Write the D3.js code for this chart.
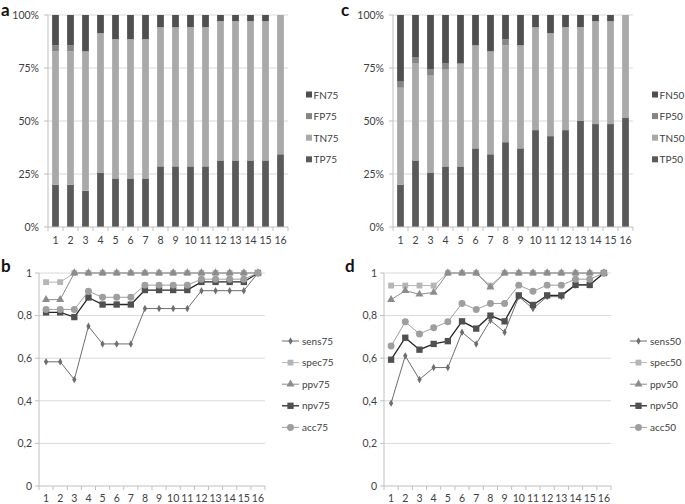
<!DOCTYPE html>
<html><head><meta charset="utf-8">
<script src="https://cdn.jsdelivr.net/npm/d3@7"></script>
<style>body{margin:0;background:#fff}svg{display:block}text{font-family:Lato,"Open Sans",sans-serif}</style>
</head><body>
<script>
const categories = d3.range(1,17).map(String);
// Panel a: percentages (threshold 75)
const TP75 = [20,20,17.1,25.7,22.9,22.9,22.9,28.6,28.6,28.6,28.6,31.4,31.4,31.4,31.4,34.3];
const TN75 = [62.9,62.9,65.7,65.7,65.7,65.7,65.7,65.7,65.7,65.7,65.7,65.7,65.7,65.7,65.7,65.7];
const FP75 = [2.9,2.9,0,0,0,0,0,0,0,0,0,0,0,0,0,0];
const FN75 = [14.3,14.3,17.1,8.6,11.4,11.4,11.4,5.7,5.7,5.7,5.7,2.9,2.9,2.9,2.9,0];
// Panel c: percentages (threshold 50)
const TP50 = [20,31.4,25.7,28.6,28.6,37.1,34.3,40,37.1,45.7,42.9,45.7,50,48.6,48.6,51.4];
const TN50 = [45.7,45.7,45.7,45.7,48.6,48.6,48.6,45.7,48.6,48.6,48.6,48.6,44.3,48.6,48.6,48.6];
const FP50 = [2.9,2.9,2.9,2.9,0,0,0,2.9,0,0,0,0,0,0,0,0];
const FN50 = [31.4,20,25.7,22.9,22.9,14.3,17.1,11.4,14.3,5.7,8.6,5.7,5.7,2.9,2.9,0];
// Panel b
const sens75 = [.583,.583,.5,.75,.667,.667,.667,.833,.833,.833,.833,.917,.917,.917,.917,1];
const spec75 = [.957,.957,1,1,1,1,1,1,1,1,1,1,1,1,1,1];
const ppv75  = [.875,.875,1,1,1,1,1,1,1,1,1,1,1,1,1,1];
const npv75  = [.815,.815,.793,.885,.852,.852,.852,.92,.92,.92,.92,.958,.958,.958,.958,1];
const acc75  = [.829,.829,.829,.914,.886,.886,.886,.943,.943,.943,.943,.971,.971,.971,.971,1];
// Panel d
const sens50 = [.389,.611,.5,.556,.556,.722,.667,.778,.722,.889,.833,.889,.889,.944,.944,1];
const spec50 = [.941,.941,.941,.941,1,1,1,.941,1,1,1,1,1,1,1,1];
const ppv50  = [.875,.917,.9,.909,1,1,1,.933,1,1,1,1,1,1,1,1];
const npv50  = [.593,.696,.64,.667,.68,.773,.739,.8,.773,.895,.85,.895,.895,.944,.944,1];
const acc50  = [.657,.771,.714,.743,.771,.857,.829,.857,.857,.943,.914,.943,.943,.971,.971,1];
const pctTicks = ["0%","25%","50%","75%","100%"];
const decTicks = ["0","0,2","0,4","0,6","0,8","1"];

const W=685,H=504;
const svg=d3.select("body").append("svg").attr("width",W).attr("height",H);

const barColors={TP:"#5a5a5a",TN:"#a9a9a9",FP:"#858585",FN:"#4f4f4f"};
const txt="#404040";
const FS=10.5, LFS=10;

function barPanel(x0,x1,y0,y1,series,suffix,letter,lx,legX){
  const g=svg.append("g");
  const x=d3.scaleBand().domain(categories).range([x0,x1]).paddingInner(0.55).paddingOuter(0.275);
  const xb=d3.scaleLinear().domain([0,16]).range([x0,x1]);
  const y=d3.scaleLinear().domain([0,1]).range([y1,y0]);
  g.selectAll(".grid").data([0.25,0.5,0.75,1]).enter().append("line")
    .attr("x1",x0).attr("x2",x1).attr("y1",d=>y(d)).attr("y2",d=>y(d)).attr("stroke","#d9d9d9").attr("stroke-width",1);
  const keys=["TP","TN","FP","FN"];
  const rows=categories.map((c,i)=>{const o={cat:c};keys.forEach(k=>o[k]=series[k][i]);return o;});
  const stack=d3.stack().keys(keys).offset(d3.stackOffsetExpand)(rows);
  g.selectAll(".s").data(stack).enter().append("g").attr("fill",d=>barColors[d.key])
    .selectAll("rect").data(d=>d).enter().append("rect")
    .attr("x",d=>x(d.data.cat)).attr("width",x.bandwidth())
    .attr("y",d=>y(d[1])).attr("height",d=>y(d[0])-y(d[1]));
  g.append("line").attr("x1",x0).attr("x2",x0).attr("y1",y0).attr("y2",y1).attr("stroke","#bfbfbf");
  [0,0.25,0.5,0.75,1].forEach(v=>g.append("line").attr("x1",x0-4).attr("x2",x0).attr("y1",y(v)).attr("y2",y(v)).attr("stroke","#bfbfbf"));
  g.append("line").attr("x1",x0).attr("x2",x1).attr("y1",y1).attr("y2",y1).attr("stroke","#bfbfbf");
  d3.range(0,17).forEach(i=>g.append("line").attr("x1",xb(i)).attr("x2",xb(i)).attr("y1",y1).attr("y2",y1+4).attr("stroke","#bfbfbf"));
  const ya=d3.scaleLinear().domain([0,4]).range([y1,y0]);
  pctTicks.forEach((t,i)=>g.append("text").attr("x",x0-9).attr("y",ya(i)+3.8).attr("text-anchor","end")
    .attr("font-size",FS).attr("fill",txt).text(t));
  categories.forEach(c=>g.append("text").attr("x",x(c)+x.bandwidth()/2).attr("y",y1+17).attr("text-anchor","middle")
    .attr("font-size",FS).attr("fill",txt).text(c));
  g.append("text").attr("x",lx).attr("y",15.5).attr("font-size",17).attr("font-weight","bold")
    .attr("font-family","Liberation Sans, Arial, sans-serif").attr("fill","#111").text(letter);
  const legKeys=["FN","FP","TN","TP"];
  legKeys.forEach((k,i)=>{
    const ly=95+i*21.6;
    g.append("rect").attr("x",legX).attr("y",ly-3.5).attr("width",6).attr("height",6).attr("fill",barColors[k]);
    g.append("text").attr("x",legX+7.5).attr("y",ly+3.6).attr("font-size",LFS).attr("fill",txt).text(k+suffix);
  });
}

barPanel(48,288,15,227,{TP:TP75,TN:TN75,FP:FP75,FN:FN75},"75","a",1,306);
barPanel(393,633,15,227,{TP:TP50,TN:TN50,FP:FP50,FN:FN50},"50","c",341,652);

const lineStyles={
  sens:{stroke:"#6e6e6e",w:1,marker:"diamond",fill:"#6e6e6e",size:16},
  spec:{stroke:"#b5b5b5",w:1,marker:"square",fill:"#b5b5b5",size:34},
  ppv:{stroke:"#8c8c8c",w:1,marker:"triangle",fill:"#8c8c8c",size:28},
  npv:{stroke:"#262626",w:1.3,marker:"square",fill:"#505050",size:40},
  acc:{stroke:"#9e9e9e",w:1,marker:"circle",fill:"#9e9e9e",size:38}
};
const symMap={diamond:d3.symbolDiamond,square:d3.symbolSquare,triangle:d3.symbolTriangle,circle:d3.symbolCircle};

function linePanel(x0,x1,y0,y1,series,suffix,letter,lx,legX){
  const g=svg.append("g");
  const x=d3.scalePoint().domain(categories).range([x0,x1]).padding(0.5);
  const xb=d3.scaleLinear().domain([0,16]).range([x0,x1]);
  const y=d3.scaleLinear().domain([0,1]).range([y1,y0]);
  [0.2,0.4,0.6,0.8,1].forEach(v=>g.append("line").attr("x1",x0).attr("x2",x1).attr("y1",y(v)).attr("y2",y(v)).attr("stroke","#d9d9d9"));
  g.append("line").attr("x1",x0).attr("x2",x0).attr("y1",y0).attr("y2",y1).attr("stroke","#bfbfbf");
  [0,0.2,0.4,0.6,0.8,1].forEach(v=>g.append("line").attr("x1",x0-4).attr("x2",x0).attr("y1",y(v)).attr("y2",y(v)).attr("stroke","#bfbfbf"));
  g.append("line").attr("x1",x0).attr("x2",x1).attr("y1",y1).attr("y2",y1).attr("stroke","#bfbfbf");
  d3.range(0,17).forEach(i=>g.append("line").attr("x1",xb(i)).attr("x2",xb(i)).attr("y1",y1).attr("y2",y1+4).attr("stroke","#bfbfbf"));
  decTicks.forEach((t,i)=>g.append("text").attr("x",x0-7).attr("y",y(i*0.2)+3.8).attr("text-anchor","end")
    .attr("font-size",FS).attr("fill",txt).text(t));
  categories.forEach(c=>g.append("text").attr("x",x(c)).attr("y",y1+16).attr("text-anchor","middle")
    .attr("font-size",FS).attr("fill",txt).text(c));
  g.append("text").attr("x",lx).attr("y",272).attr("font-size",17).attr("font-weight","bold")
    .attr("font-family","Liberation Sans, Arial, sans-serif").attr("fill","#111").text(letter);
  const names=["sens","spec","ppv","npv","acc"];
  const line=d3.line().x((d,i)=>x(categories[i])).y(d=>y(d));
  names.forEach(n=>{
    const st=lineStyles[n], vals=series[n];
    g.append("path").attr("d",line(vals)).attr("fill","none").attr("stroke",st.stroke).attr("stroke-width",st.w);
    g.selectAll(null).data(vals).enter().append("path")
      .attr("d",d3.symbol().type(symMap[st.marker]).size(st.size))
      .attr("transform",(d,i)=>`translate(${x(categories[i])},${y(d)})`).attr("fill",st.fill);
  });
  names.forEach((n,i)=>{
    const st=lineStyles[n], ly=341+i*21.6;
    g.append("line").attr("x1",legX).attr("x2",legX+17).attr("y1",ly).attr("y2",ly).attr("stroke",st.stroke).attr("stroke-width",st.w);
    g.append("path").attr("d",d3.symbol().type(symMap[st.marker]).size(st.size)).attr("transform",`translate(${legX+8.5},${ly})`).attr("fill",st.fill);
    g.append("text").attr("x",legX+20).attr("y",ly+3.6).attr("font-size",LFS).attr("fill",txt).text(n+suffix);
  });
}

linePanel(39,265,273,486,{sens:sens75,spec:spec75,ppv:ppv75,npv:npv75,acc:acc75},"75","b",1,282);
linePanel(384,611,273,486,{sens:sens50,spec:spec50,ppv:ppv50,npv:npv50,acc:acc50},"50","d",345,630);
</script>
</body></html>
